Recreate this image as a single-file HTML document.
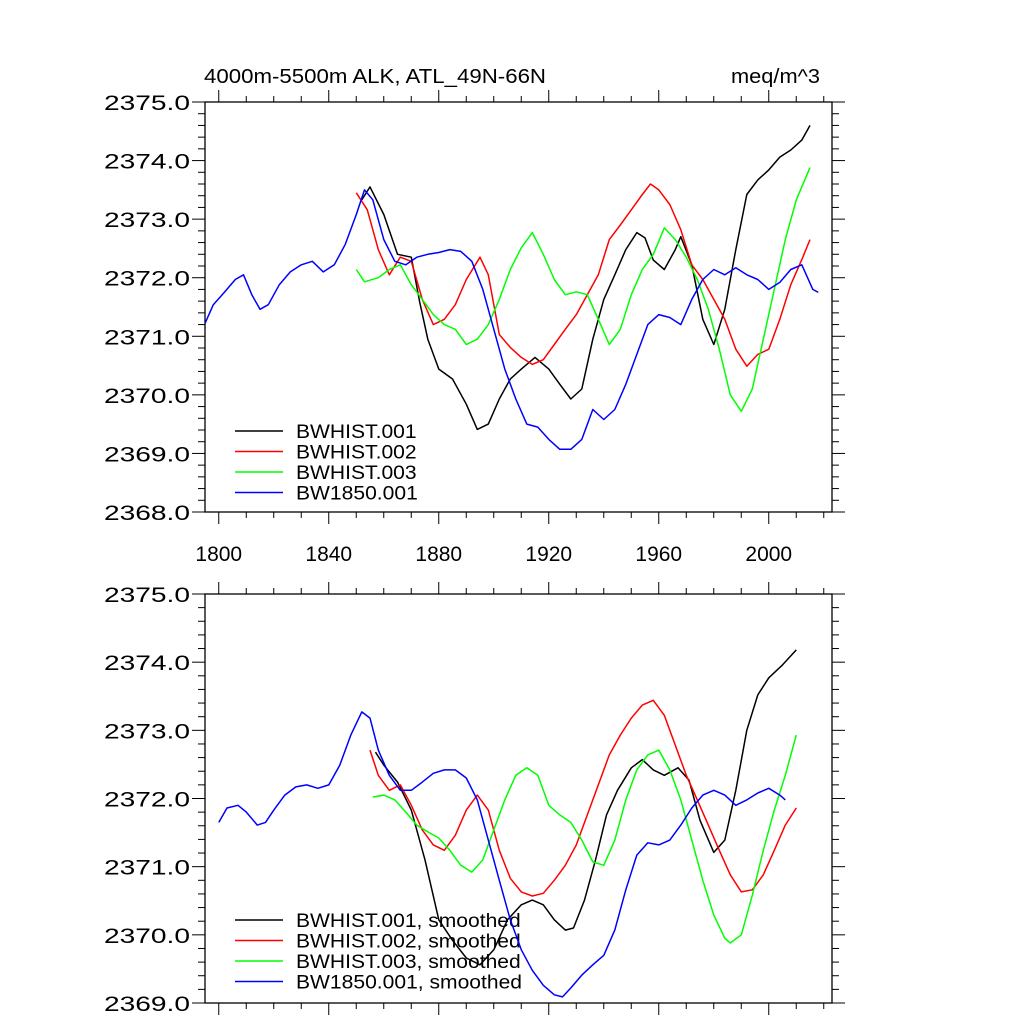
<!DOCTYPE html>
<html><head><meta charset="utf-8"><style>
body{margin:0;background:#fff;}
svg text{font-family:"Liberation Sans",sans-serif;}
</style></head><body>
<svg id="c" width="1024" height="1024" xmlns="http://www.w3.org/2000/svg">
<text x="204" y="83" font-size="20" textLength="342" lengthAdjust="spacingAndGlyphs">4000m-5500m ALK, ATL_49N-66N</text>
<text x="731" y="83" font-size="20" textLength="89" lengthAdjust="spacingAndGlyphs">meq/m^3</text>
</svg>
<script>
const xTicks=[1800,1840,1880,1920,1960,2000];
const topYTicks=[2368,2369,2370,2371,2372,2373,2374,2375];
const botYTicks=[2369,2370,2371,2372,2373,2374,2375];
const topBlackX=[1852,1855,1860,1865,1870,1873,1876,1880,1885,1890,1894,1898,1902,1906,1910,1915,1920,1924,1928,1932,1936,1940,1944,1948,1952,1955,1958,1962,1966,1968,1972,1976,1980,1984,1988,1992,1996,2000,2004,2008,2012,2015];
const topBlackY=[2373.33,2373.55,2373.08,2372.4,2372.35,2371.6,2370.95,2370.44,2370.27,2369.84,2369.41,2369.5,2369.93,2370.27,2370.44,2370.64,2370.44,2370.18,2369.93,2370.1,2370.95,2371.63,2372.05,2372.48,2372.77,2372.68,2372.3,2372.14,2372.48,2372.7,2372.22,2371.29,2370.86,2371.46,2372.48,2373.42,2373.67,2373.84,2374.06,2374.18,2374.35,2374.6];
const topRedX=[1850,1854,1858,1862,1866,1870,1874,1878,1882,1886,1890,1895,1898,1902,1906,1910,1914,1918,1922,1926,1930,1934,1938,1942,1946,1950,1954,1957,1960,1964,1968,1972,1976,1980,1984,1988,1992,1996,2000,2004,2008,2012,2015];
const topRedY=[2373.45,2373.16,2372.48,2372.05,2372.35,2372.28,2371.63,2371.2,2371.29,2371.54,2371.97,2372.35,2372.05,2371.03,2370.81,2370.64,2370.52,2370.6,2370.86,2371.12,2371.37,2371.71,2372.05,2372.65,2372.9,2373.16,2373.42,2373.6,2373.5,2373.25,2372.82,2372.22,2371.97,2371.63,2371.29,2370.78,2370.49,2370.69,2370.78,2371.29,2371.88,2372.31,2372.65];
const topGreenX=[1850,1853,1858,1862,1866,1870,1874,1878,1882,1886,1890,1894,1898,1902,1906,1910,1914,1918,1922,1926,1930,1934,1938,1942,1946,1950,1954,1958,1962,1966,1970,1974,1978,1982,1986,1990,1994,1998,2002,2006,2010,2015];
const topGreenY=[2372.14,2371.93,2372.0,2372.14,2372.22,2371.88,2371.63,2371.37,2371.2,2371.12,2370.86,2370.95,2371.2,2371.63,2372.14,2372.51,2372.77,2372.4,2371.97,2371.71,2371.76,2371.71,2371.29,2370.86,2371.12,2371.71,2372.14,2372.4,2372.85,2372.65,2372.35,2371.97,2371.46,2370.78,2370.0,2369.72,2370.1,2370.95,2371.8,2372.65,2373.33,2373.88];
const topBlueX=[1795,1798,1802,1806,1809,1812,1815,1818,1822,1826,1830,1834,1838,1842,1846,1850,1853,1856,1860,1864,1868,1872,1876,1880,1884,1888,1892,1896,1900,1904,1908,1912,1916,1920,1924,1928,1932,1936,1940,1944,1948,1952,1956,1960,1964,1968,1972,1976,1980,1984,1988,1992,1996,2000,2004,2008,2012,2016,2018];
const topBlueY=[2371.22,2371.54,2371.75,2371.97,2372.05,2371.71,2371.46,2371.54,2371.88,2372.1,2372.22,2372.28,2372.1,2372.22,2372.57,2373.08,2373.5,2373.33,2372.65,2372.28,2372.22,2372.35,2372.4,2372.43,2372.48,2372.45,2372.28,2371.8,2371.12,2370.44,2369.93,2369.5,2369.45,2369.24,2369.07,2369.07,2369.24,2369.75,2369.58,2369.75,2370.18,2370.69,2371.2,2371.37,2371.32,2371.2,2371.63,2371.97,2372.14,2372.05,2372.17,2372.05,2371.97,2371.8,2371.92,2372.14,2372.22,2371.8,2371.75];
const botBlackX=[1857,1860,1865,1870,1875,1880,1885,1890,1895,1900,1905,1910,1914,1918,1922,1926,1929,1933,1937,1941,1945,1950,1954,1958,1962,1967,1971,1975,1980,1984,1988,1992,1996,2000,2005,2010];
const botBlackY=[2372.68,2372.49,2372.24,2371.83,2371.1,2370.22,2369.92,2369.66,2369.56,2369.78,2370.22,2370.44,2370.51,2370.44,2370.22,2370.07,2370.1,2370.51,2371.1,2371.76,2372.12,2372.45,2372.57,2372.42,2372.34,2372.45,2372.27,2371.68,2371.21,2371.39,2372.12,2373.0,2373.52,2373.77,2373.96,2374.18];
const botRedX=[1855,1858,1862,1866,1870,1874,1878,1882,1886,1890,1894,1898,1902,1906,1910,1914,1918,1922,1926,1930,1934,1938,1942,1946,1950,1954,1958,1962,1966,1970,1974,1978,1982,1986,1990,1994,1998,2002,2006,2010];
const botRedY=[2372.71,2372.34,2372.12,2372.2,2371.9,2371.54,2371.32,2371.24,2371.46,2371.83,2372.05,2371.83,2371.24,2370.83,2370.63,2370.57,2370.61,2370.8,2371.02,2371.32,2371.76,2372.2,2372.64,2372.93,2373.18,2373.37,2373.44,2373.22,2372.78,2372.34,2371.98,2371.61,2371.24,2370.88,2370.63,2370.66,2370.88,2371.24,2371.61,2371.86];
const botGreenX=[1856,1860,1864,1868,1872,1876,1880,1884,1888,1892,1896,1900,1904,1908,1912,1916,1920,1924,1928,1932,1936,1940,1944,1948,1952,1956,1960,1964,1968,1972,1976,1980,1984,1986,1990,1994,1998,2002,2006,2010];
const botGreenY=[2372.02,2372.05,2371.98,2371.8,2371.61,2371.51,2371.42,2371.24,2371.02,2370.92,2371.1,2371.54,2371.98,2372.34,2372.45,2372.34,2371.9,2371.76,2371.65,2371.39,2371.07,2371.02,2371.39,2371.98,2372.42,2372.64,2372.71,2372.42,2371.98,2371.39,2370.8,2370.29,2369.95,2369.88,2370.0,2370.58,2371.24,2371.83,2372.34,2372.93];
const botBlueX=[1800,1803,1807,1810,1814,1817,1820,1824,1828,1832,1836,1840,1844,1848,1852,1855,1858,1862,1866,1870,1874,1878,1882,1886,1890,1894,1898,1902,1906,1910,1914,1918,1922,1925,1928,1932,1936,1940,1944,1948,1952,1956,1960,1964,1968,1972,1976,1980,1984,1988,1992,1996,2000,2004,2006];
const botBlueY=[2371.65,2371.86,2371.9,2371.8,2371.61,2371.65,2371.83,2372.05,2372.17,2372.2,2372.15,2372.2,2372.49,2372.93,2373.27,2373.18,2372.71,2372.34,2372.12,2372.12,2372.24,2372.37,2372.42,2372.42,2372.3,2371.98,2371.39,2370.8,2370.22,2369.78,2369.48,2369.26,2369.12,2369.09,2369.22,2369.41,2369.56,2369.7,2370.07,2370.66,2371.17,2371.35,2371.32,2371.39,2371.61,2371.86,2372.05,2372.12,2372.05,2371.9,2371.98,2372.08,2372.15,2372.05,2371.98];
const topNames=["BWHIST.001","BWHIST.002","BWHIST.003","BW1850.001"];
const botNames=["BWHIST.001, smoothed","BWHIST.002, smoothed","BWHIST.003, smoothed","BW1850.001, smoothed"];
const colors=["#000","#f00","#0f0","#00f"];

const svg=document.getElementById('c');
const NS="http://www.w3.org/2000/svg";
function mk(t,a){const e=document.createElementNS(NS,t);for(const k in a)e.setAttribute(k,a[k]);svg.appendChild(e);return e;}
const L=205,R=832,x0=1795,x1=2023;
function xs(v){return L+(v-x0)/(x1-x0)*(R-L);}
function widen(t,f){const w=t.getComputedTextLength();t.setAttribute('textLength',(w*f).toFixed(1));t.setAttribute('lengthAdjust','spacingAndGlyphs');}
function panel(pfx,top,bot,ymin,ymax,yt,series,names,legY,showX){
  const ys=v=>bot-(v-ymin)/(ymax-ymin)*(bot-top);
  const f=mk('rect',{x:L,y:top,width:R-L,height:bot-top,fill:'none',stroke:'#000','stroke-width':1.3});
  
  
  for(let v=ymin;v<=ymax+1e-6;v+=0.2){
    const major=Math.abs(v-Math.round(v))<1e-6;const len=major?13:7;const y=ys(v);
    const t1=mk('line',{x1:L-len,x2:L,y1:y,y2:y,stroke:'#000','stroke-width':1});
    
    
    const t2=mk('line',{x1:R,x2:R+len,y1:y,y2:y,stroke:'#000','stroke-width':1});
    
    
  }
  yt.forEach(v=>{const t=mk('text',{x:104,y:ys(v)+8,'font-size':21,textLength:86,lengthAdjust:'spacingAndGlyphs'});t.textContent=v.toFixed(1);
    
    });
  for(let yr=1800;yr<=2020;yr+=10){
    const major=(yr-1800)%40===0;const len=major?12:6;const x=xs(yr);
    const a=mk('line',{x1:x,x2:x,y1:top-len,y2:top,stroke:'#000','stroke-width':1});
    
    
    const b=mk('line',{x1:x,x2:x,y1:bot,y2:bot+len,stroke:'#000','stroke-width':1});
    
    
  }
  if(showX)xTicks.forEach(v=>{const t=mk('text',{x:xs(v),y:bot+49,'font-size':21,'text-anchor':'middle'});t.textContent=v;
    
    });
  series.forEach((s,i)=>{
    const d=s[0].map((x,j)=>(j?'L':'M')+xs(x).toFixed(1)+','+ys(s[1][j]).toFixed(1)).join('');
    const p=mk('path',{d:d,fill:'none',stroke:colors[i],'stroke-width':1.5,'stroke-linejoin':'round'});
    
    
    const ly=legY+i*20.5;
    const ll=mk('line',{x1:235,x2:283,y1:ly,y2:ly,stroke:colors[i],'stroke-width':1.5});
    
    
    const lt=mk('text',{x:296,y:ly+7,'font-size':19.5});lt.textContent=names[i];
    
    
    widen(lt,1.08);
  });
}
panel('top',102,512,2368,2375,topYTicks,[[topBlackX,topBlackY],[topRedX,topRedY],[topGreenX,topGreenY],[topBlueX,topBlueY]],topNames,431,true);
panel('bottom',594,1003,2369,2375,botYTicks,[[botBlackX,botBlackY],[botRedX,botRedY],[botGreenX,botGreenY],[botBlueX,botBlueY]],botNames,920,false);
</script>
</body></html>
